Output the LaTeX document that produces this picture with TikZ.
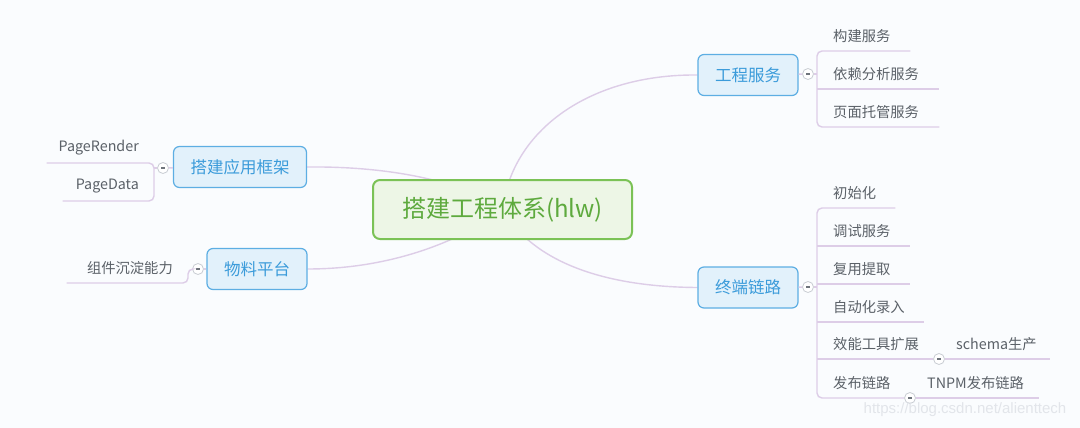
\documentclass[tikz,border=0pt]{standalone}
\usepackage{fontspec}
\setmainfont{Noto Sans CJK SC}
\newfontfamily\wmfont{Liberation Sans}
\usetikzlibrary{backgrounds}
\definecolor{bgc}{HTML}{FAFCFE}
\definecolor{rootline}{HTML}{7BC256}
\definecolor{rootfill}{HTML}{EDF6E6}
\definecolor{roottext}{HTML}{5EAA3E}
\definecolor{topicline}{HTML}{5DAEE3}
\definecolor{topicfill}{HTML}{E2F1FB}
\definecolor{topictext}{HTML}{3B9BDA}
\definecolor{leaftext}{HTML}{5B6168}
\definecolor{linkc}{HTML}{DDCDE7}
\definecolor{foldline}{HTML}{C9CDD3}
\definecolor{foldmark}{HTML}{6E747B}
\definecolor{wmc}{HTML}{E2E5EA}

\begin{document}
\begin{tikzpicture}[
	x=1pt, y=-1pt,
	root/.style={draw=rootline, line width=2pt, fill=rootfill, rounded corners=7pt, minimum width=259pt, minimum height=59pt, text=roottext, font=\fontsize{24}{28}\selectfont},
	topic/.style={draw=topicline, line width=1.2pt, fill=topicfill, rounded corners=6pt, minimum width=100pt, minimum height=41pt, inner xsep=17pt, text=topictext, font=\fontsize{16.5}{20}\selectfont},
	rleaf/.style={anchor=south west, minimum height=30pt, inner xsep=0pt, text width=#1, align=left, text=leaftext, font=\fontsize{14.3}{17}\selectfont, execute at begin node={\kern16pt}},
	rsub/.style={rleaf=#1, execute at begin node={\kern-4pt}},
	lleaf/.style={anchor=south east, minimum height=30pt, inner xsep=0pt, text width=#1, align=right, text=leaftext, font=\fontsize{14.3}{17}\selectfont, execute at end node={\kern15pt}},
	fold/.style={circle, draw=foldline, line width=0.8pt, fill=white, minimum size=11pt, inner sep=0pt},
	lnk/.style={draw=linkc, line width=1.4pt},
	wm/.style={text=wmc, font=\wmfont\fontsize{15}{18}\selectfont}
	]
	\node[root] (r) at (502.5,209.5) {搭建工程体系(hlw)};
	\node[topic] (gc) at (748,75) {工程服务};
	\node[topic] (kj) at (240,167) {搭建应用框架};
	\node[topic] (wl) at (257,269) {物料平台};
	\node[topic] (zd) at (748,287.5) {终端链路};

	\node[fold] (fgc) at (808,74) {\color{foldmark}\rule{4pt}{1.1pt}};
	\node[fold] (fkj) at (163,168) {\color{foldmark}\rule{4pt}{1.1pt}};
	\node[fold] (fwl) at (198,269) {\color{foldmark}\rule{4pt}{1.1pt}};
	\node[fold] (fzd) at (808,287) {\color{foldmark}\rule{4pt}{1.1pt}};

	\node[rleaf=93pt] (gc1) at (817,51) {构建服务};
	\node[rleaf=122pt] (gc2) at (817,89) {依赖分析服务};
	\node[rleaf=122pt] (gc3) at (817,127) {页面托管服务};

	\node[lleaf=107pt] (kj1) at (154,163) {PageRender};
	\node[lleaf=91pt] (kj2) at (154,201) {PageData};
	\node[lleaf=121pt] (wl1) at (188,283) {组件沉淀能力};

	\node[rleaf=78pt] (zd1) at (817,208) {初始化};
	\node[rleaf=93pt] (zd2) at (817,246) {调试服务};
	\node[rleaf=93pt] (zd3) at (817,284) {复用提取};
	\node[rleaf=107pt] (zd4) at (817,322) {自动化录入};
	\node[rleaf=117pt] (zd5) at (817,359) {效能工具扩展};
	\node[rleaf=88pt] (zd6) at (817,398) {发布链路};
	\node[fold] (f5) at (939,359) {\color{foldmark}\rule{4pt}{1.1pt}};
	\node[fold] (f6) at (910,398) {\color{foldmark}\rule{4pt}{1.1pt}};
	\node[rsub=106pt] (zd51) at (944,359) {schema生产};
	\node[rsub=124pt] (zd61) at (915,398) {TNPM发布链路};

	\node[wm] (wmk) at (965,410) {https://blog.csdn.net/alienttech};

	\begin{scope}[on background layer]
		\fill[bgc] (0,0) rectangle (1080,428);
		\draw[lnk] (r.center) .. controls (512,130) and (590,74) .. (gc.west);
		\draw[lnk] (r.center) .. controls (535,265) and (610,287) .. (zd.west);
		\draw[lnk] (kj.east) .. controls (400,166) and (470,185) .. (r.center);
		\draw[lnk] (wl.east) .. controls (400,269) and (470,235) .. (r.center);
	\end{scope}

	\draw[lnk] (gc) -- (fgc);
	\draw[lnk] (fgc) -- (fgc -| gc1.south west);
	\draw[lnk, rounded corners=5pt] (gc1.south east) -- (gc1.south west) -- (gc3.south west) -- (gc3.south east);
	\draw[lnk] (gc2.south west) -- (gc2.south east);

	\draw[lnk] (kj) -- (fkj);
	\draw[lnk] (fkj) -- (fkj -| kj1.south east);
	\draw[lnk, rounded corners=5pt] (kj1.south west) -- (kj1.south east) -- (kj2.south east) -- (kj2.south west);

	\draw[lnk] (wl) -- (fwl);
	\draw[lnk, rounded corners=5pt] (wl1.south west) -- (wl1.south east) -- (fwl -| wl1.south east) -- (fwl);

	\draw[lnk] (zd) -- (fzd);
	\draw[lnk] (fzd) -- (fzd -| zd1.south west);
	\draw[lnk, rounded corners=5pt] (zd1.south east) -- (zd1.south west) -- (zd6.south west) -- (f6);
	\draw[lnk] (zd2.south west) -- (zd2.south east);
	\draw[lnk] (zd3.south west) -- (zd3.south east);
	\draw[lnk] (zd4.south west) -- (zd4.south east);
	\draw[lnk] (zd5.south west) -- (f5);
	\draw[lnk] (f5) -- (zd51.south east);
	\draw[lnk] (f6) -- (zd61.south east);
\end{tikzpicture}
\end{document}
